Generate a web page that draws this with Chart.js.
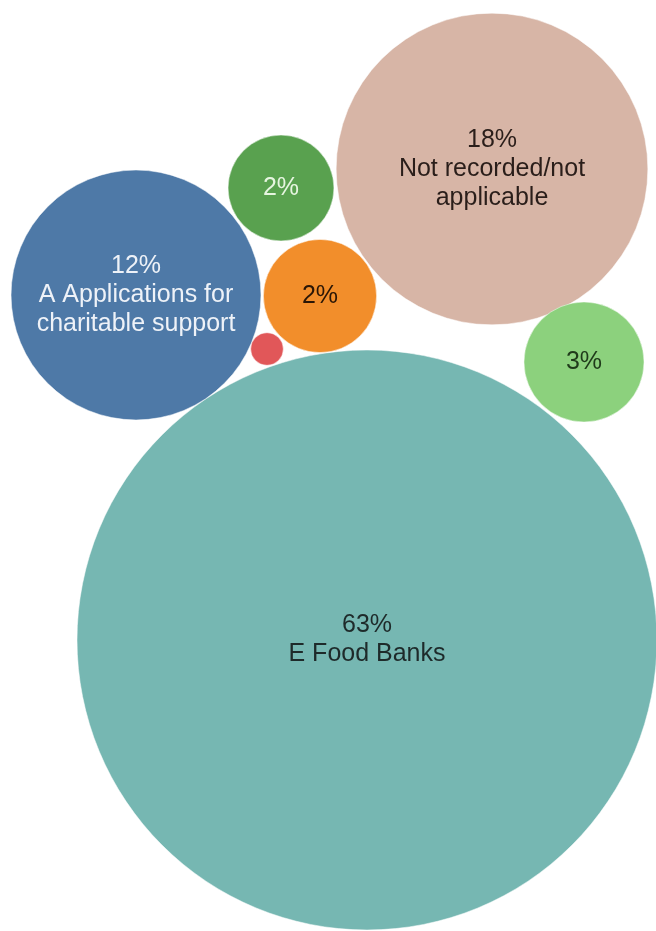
<!DOCTYPE html>
<html>
<head>
<meta charset="utf-8">
<script src="https://cdn.jsdelivr.net/npm/chart.js@4"></script>
<style>
  html, body { margin: 0; padding: 0; background: #fff; }
  #chart { display: block; }
</style>
</head>
<body>
<canvas id="chart" width="656" height="931"></canvas>
<script>
// share of records by category (percent)
const categories = ['E Food Banks', 'Not recorded/not applicable', 'A Applications for charitable support',
                    '', '', '', ''];
const shares = [63, 18.2, 11.7, 2.7, 2.4, 2.1, 0.2];
const shareLabels = ['63%', '18%', '12%', '3%', '2%', '2%', ''];
// packed-bubble layout positions (axis units)
const posX = [367, 492, 136, 584, 320, 281, 267];
const posY = [640, 169, 295, 362, 296, 188, 349];
const colors = ['#76b7b2', '#d7b5a6', '#4e79a7', '#8cd17d', '#f28e2b', '#59a14f', '#e15759'];
const textColors = ['#1e2a2a', '#2a1e1a', '#eef2f8', '#1f3a1a', '#2a1606', '#e6f5e0', '#fff'];

const RADIUS_SCALE = 290 / Math.sqrt(63);

const points = shares.map(function(v, i) {
  return { x: posX[i], y: posY[i], r: RADIUS_SCALE * Math.sqrt(v) };
});

const labelPlugin = {
  id: 'bubbleLabels',
  afterDatasetsDraw(chart) {
    const ctx = chart.ctx;
    const meta = chart.getDatasetMeta(0);
    ctx.save();
    ctx.textAlign = 'center';
    ctx.textBaseline = 'middle';
    ctx.font = '25px "Liberation Sans", Arial, sans-serif';
    meta.data.forEach(function(el, i) {
      const lines = [shareLabels[i]];
      if (categories[i]) {
        // break long names the way the original does
        if (i === 1) lines.push('Not recorded/not', 'applicable');
        else if (i === 2) lines.push('A Applications for', 'charitable support');
        else lines.push(categories[i]);
      }
      const lh = 29;
      const top = el.y - (lines.length - 1) * lh / 2;
      ctx.fillStyle = textColors[i];
      lines.forEach(function(t, k) {
        if (t) ctx.fillText(t, el.x, top + k * lh);
      });
    });
    ctx.restore();
  }
};

new Chart(document.getElementById('chart'), {
  type: 'bubble',
  data: {
    datasets: [{
      data: points,
      backgroundColor: colors,
      borderColor: 'rgba(255,255,255,0.5)',
      borderWidth: 1,
      clip: false
    }]
  },
  options: {
    responsive: false,
    animation: false,
    layout: { padding: 0, autoPadding: false },
    plugins: { legend: { display: false }, tooltip: { enabled: false } },
    scales: {
      x: { display: false, min: 0, max: 656 },
      y: { display: false, min: 0, max: 931, reverse: true }
    }
  },
  plugins: [labelPlugin]
});
</script>
</body>
</html>
